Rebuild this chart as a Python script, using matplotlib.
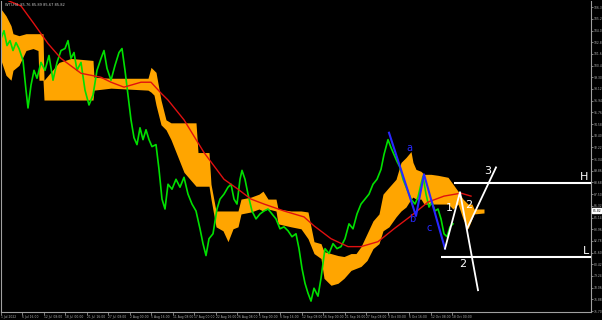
import matplotlib
matplotlib.use("Agg")
import matplotlib.pyplot as plt

# -------------------------------
# Chart data
# -------------------------------

symbol_title = "WTI,H4  85.76 85.89 85.67 85.82"

# close line: bar index, price
close_bar = [0, 3, 6, 9, 12, 15, 18, 22, 25, 27, 30, 33, 36, 40, 44, 48, 52, 56, 60, 64,
             67, 70, 73, 76, 80, 84, 88, 92, 96, 100, 103, 106, 110, 114, 118, 121, 124, 127, 130, 133,
             136, 139, 142, 145, 148, 151, 155, 158, 161, 164, 167, 171, 175, 179, 183, 187, 191, 195, 199, 202,
             205, 208, 212, 216, 219, 223, 227, 230, 233, 236, 239, 241, 244, 247, 251, 255, 259, 263, 267, 271,
             275, 279, 283, 287, 291, 295, 298, 301, 304, 307, 310, 313, 317, 320, 324, 328, 332, 336, 340, 344,
             348, 352, 356, 360, 364, 368, 372, 376, 380, 383, 387, 390, 393, 396, 399, 402, 406, 410, 414, 417,
             420, 422, 425, 428, 431, 434, 437, 440, 443, 446, 449, 452]
close_price = [103.2, 104.0, 102.5, 103.0, 102.0, 102.8, 102.2, 101.0, 98.0, 96.2, 98.5, 100.0, 99.2, 100.8, 100.0, 101.5, 99.0, 100.8, 102.0, 102.2,
               103.0, 101.2, 101.8, 100.0, 100.8, 98.0, 96.5, 97.5, 100.0, 101.2, 102.0, 100.2, 99.0, 100.5, 101.8, 102.2, 100.0, 97.5, 95.0, 93.2,
               92.5, 94.2, 93.0, 94.0, 93.0, 92.3, 92.5, 90.0, 87.0, 86.0, 88.5, 88.0, 89.0, 88.2, 89.2, 87.5, 86.5, 85.8, 84.0, 82.5,
               81.3, 83.0, 83.5, 86.0, 87.0, 87.5, 88.2, 88.5, 87.0, 86.5, 89.0, 89.9, 89.0, 87.5, 85.8, 85.0, 85.5, 85.8, 86.0, 85.5,
               85.0, 84.0, 84.2, 83.8, 83.2, 83.5, 82.0, 80.0, 78.5, 77.5, 76.7, 78.0, 77.2, 79.0, 82.0, 81.5, 82.5, 82.0, 82.2, 83.0,
               84.5, 84.0, 85.5, 86.5, 87.0, 87.5, 88.5, 89.0, 90.0, 91.5, 93.0, 92.2, 91.5, 90.8, 90.2, 89.0, 88.0, 87.0, 86.5, 87.2,
               88.5, 89.3, 87.5, 86.2, 86.7, 85.8, 86.0, 85.0, 83.5, 83.2, 84.2, 84.5]

# ichimoku cloud edges
cloud_bar = [0, 5, 10, 12, 18, 25, 32, 37, 38, 42, 43, 58, 70, 92, 93, 110, 147, 150, 153, 155,
             160, 165, 170, 183, 195, 197, 208, 210, 215, 222, 227, 232, 237, 240, 250, 258, 262, 267, 275, 277,
             290, 300, 307, 313, 320, 323, 330, 337, 343, 350, 355, 360, 366, 372, 378, 382, 388, 395, 400, 405,
             410, 412, 415, 420, 423, 430, 437, 447, 452, 457, 462, 467, 471, 473, 483]
cloud_top = [106.2, 105.5, 104.5, 103.7, 103.5, 103.7, 103.7, 103.7, 103.7, 103.7, 99.0, 100.8, 101.2, 101.0, 99.3, 99.2, 99.2, 100.3, 100.0, 99.8,
             97.0, 95.0, 94.7, 94.7, 94.7, 91.7, 91.7, 88.5, 85.8, 85.8, 85.8, 85.8, 85.8, 87.0, 87.2, 87.5, 87.8, 87.0, 87.0, 86.0,
             85.8, 85.8, 85.7, 82.7, 82.5, 81.7, 81.5, 81.3, 81.2, 81.5, 81.5, 82.2, 83.5, 84.8, 85.5, 87.5, 88.2, 89.0, 90.7, 91.2,
             91.8, 90.7, 90.0, 89.8, 89.5, 89.5, 89.4, 89.2, 88.5, 87.8, 87.0, 86.5, 86.5, 86.0, 86.0]
cloud_bottom = [101.0, 99.5, 99.0, 100.0, 100.5, 102.0, 102.2, 102.0, 99.0, 99.0, 97.0, 97.0, 97.0, 97.0, 98.0, 98.2, 98.0, 97.8, 97.5, 96.5,
                94.5, 94.0, 93.0, 89.7, 88.3, 88.3, 88.3, 87.0, 84.2, 83.8, 82.7, 84.0, 84.2, 85.5, 85.7, 86.0, 85.8, 86.0, 85.8, 84.5,
                84.2, 84.0, 83.0, 81.5, 81.0, 79.0, 78.3, 78.5, 79.0, 79.8, 80.0, 80.2, 80.8, 82.0, 82.5, 83.8, 84.2, 85.2, 85.8, 86.2,
                87.0, 87.2, 87.0, 87.0, 86.5, 86.5, 86.5, 86.5, 86.0, 86.5, 85.0, 84.0, 85.0, 85.5, 85.6]

# moving average
ma_bar = [8, 20, 33, 47, 60, 80, 100, 110, 123, 140, 150, 160, 167, 183, 203, 223, 237, 250, 263, 283,
          303, 313, 330, 347, 360, 377, 393, 410, 427, 443, 460, 470]
ma_price = [107.0, 106.5, 104.7, 102.7, 101.2, 99.7, 99.3, 98.8, 98.3, 98.8, 98.8, 97.7, 97.0, 95.0, 91.7, 89.0, 88.0, 87.0, 86.5, 85.8,
            85.2, 84.3, 83.0, 82.2, 82.2, 82.7, 84.0, 85.3, 86.7, 87.3, 87.6, 87.3]

# blue abc correction
abc_bar = [388, 415, 423, 444]
abc_price = [93.7, 85.3, 89.5, 82.0]
abc_labels = ["a", "b", "c"]
abc_label_bar = [408, 411, 428]
abc_label_price = [92.2, 85.0, 84.1]

# white wave lines
wave1_bar = [444, 459, 477]
wave1_price = [82.0, 87.7, 77.8]
wave2_bar = [466, 495]
wave2_price = [84.0, 90.2]
wave_labels = ["1", "2", "3", "2"]
wave_label_bar = [448, 468, 487, 462]
wave_label_price = [86.1, 86.4, 89.8, 80.4]

high_level = 88.6
low_level = 81.2
high_start = 453
low_start = 440

last_price = 85.82

price_ticks = [75.70, 76.88, 78.06, 79.24, 80.42, 81.60, 82.78, 83.96, 85.14, 86.32, 87.50, 88.68, 89.86, 91.04,
               92.22, 93.40, 94.58, 95.76, 96.94, 98.12, 99.30, 100.48, 101.66, 102.84, 104.02, 105.20, 106.38]

date_ticks = [0, 21, 43, 64, 86, 107, 129, 150, 172, 193, 215, 236, 258, 279, 301, 322, 344, 365, 387, 408, 430, 451]
date_labels = ["1 Jul 2022", "6 Jul 16:00", "12 Jul 08:00", "18 Jul 00:00", "21 Jul 16:00", "27 Jul 08:00",
               "2 Aug 00:00", "5 Aug 16:00", "11 Aug 08:00", "17 Aug 00:00", "22 Aug 16:00", "26 Aug 08:00",
               "1 Sep 00:00", "6 Sep 16:00", "12 Sep 08:00", "16 Sep 00:00", "21 Sep 16:00", "27 Sep 08:00",
               "3 Oct 00:00", "6 Oct 16:00", "12 Oct 08:00", "18 Oct 00:00"]

# -------------------------------
# Plot
# -------------------------------

fig = plt.figure(figsize=(6.02, 3.2), dpi=100, facecolor="black")
ax = fig.add_axes([1 / 602, 8 / 320, 590 / 602, 311 / 320])
ax.set_facecolor("black")

ax.fill_between(cloud_bar, cloud_bottom, cloud_top, color="#ffa500", linewidth=0, zorder=1)
ax.plot(close_bar, close_price, color="#00e000", linewidth=1.2, zorder=2)
ax.plot(ma_bar, ma_price, color="#e01010", linewidth=1.0, zorder=3)

ax.plot(abc_bar, abc_price, color="#2828ff", linewidth=1.5, zorder=4)
for t, b, p in zip(abc_labels, abc_label_bar, abc_label_price):
    ax.text(b, p, t, color="#2828ff", fontsize=7, ha="center", va="center", zorder=5)

ax.plot(wave1_bar, wave1_price, color="white", linewidth=1.3, zorder=4)
ax.plot(wave2_bar, wave2_price, color="white", linewidth=1.3, zorder=4)
for t, b, p in zip(wave_labels, wave_label_bar, wave_label_price):
    ax.text(b, p, t, color="white", fontsize=8, ha="center", va="center", zorder=5)

ax.hlines(high_level, high_start, 590, color="white", linewidth=1.5, zorder=4)
ax.hlines(low_level, low_start, 590, color="white", linewidth=1.5, zorder=4)
ax.text(583, high_level + 0.6, "H", color="white", fontsize=8, ha="center", va="center")
ax.text(585, low_level + 0.6, "L", color="white", fontsize=8, ha="center", va="center")

ax.text(0.006, 0.995, symbol_title, transform=ax.transAxes, color="#c8c8c8",
        fontsize=2.6, ha="left", va="top")

ax.set_xlim(0, 590)
ax.set_ylim(75.6, 107.0)

ax.yaxis.tick_right()
ax.set_yticks(price_ticks)
ax.set_yticklabels(["%.2f" % v for v in price_ticks])
ax.set_xticks(date_ticks)
ax.set_xticklabels(date_labels)
for lab in ax.get_xticklabels():
    lab.set_horizontalalignment("left")

ax.tick_params(axis="y", colors="#b0b0b0", labelsize=2.2, length=1.5, width=0.5, pad=0.6)
ax.tick_params(axis="x", colors="#b0b0b0", labelsize=2.2, length=2, width=0.5, pad=0.5)

# last price box on the scale
ax.text(591.3, last_price, "%.2f" % last_price, color="black", fontsize=2.2, ha="left", va="center",
        bbox=dict(facecolor="white", edgecolor="white", pad=0.3), clip_on=False)

for side in ["left", "right", "bottom"]:
    ax.spines[side].set_color("#a0a0a0")
    ax.spines[side].set_linewidth(0.8)
ax.spines["top"].set_visible(False)

plt.savefig("out.png", dpi=100, facecolor="black")
